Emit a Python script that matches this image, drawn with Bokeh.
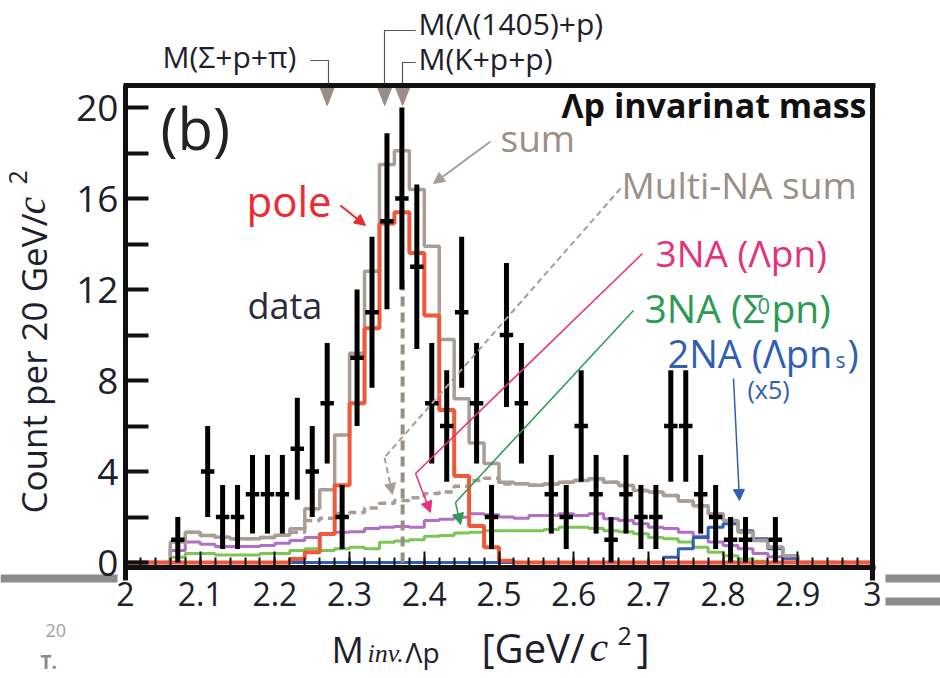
import math
from bokeh.plotting import figure
from bokeh.models import Range1d, FixedTicker, Label, Arrow, NormalHead, LinearAxis
from bokeh.embed import file_html
from bokeh.resources import INLINE

# ---------------- data ----------------
# histogram bins: 20 MeV/c^2, lower edges 2.00 ... 2.98
bin_lo = [2.00, 2.02, 2.04, 2.06, 2.08, 2.10, 2.12, 2.14, 2.16, 2.18,
          2.20, 2.22, 2.24, 2.26, 2.28, 2.30, 2.32, 2.34, 2.36, 2.38,
          2.40, 2.42, 2.44, 2.46, 2.48, 2.50, 2.52, 2.54, 2.56, 2.58,
          2.60, 2.62, 2.64, 2.66, 2.68, 2.70, 2.72, 2.74, 2.76, 2.78,
          2.80, 2.82, 2.84, 2.86, 2.88, 2.90, 2.92, 2.94, 2.96, 2.98]
bin_hi_last = 3.00

sum_hist = [0, 0, 0, 0.90, 1.33, 1.19, 1.11, 1.04, 1.04, 1.10,
            1.20, 1.48, 2.36, 3.20, 5.60, 9.20, 12.8, 17.5, 18.1, 16.4,
            13.9, 9.80, 7.20, 5.25, 4.35, 3.53, 3.46, 3.40, 3.45, 3.53,
            3.60, 3.68, 3.53, 3.38, 3.16, 3.10, 2.95, 2.70, 2.50, 2.14,
            1.85, 1.33, 0.97, 0.67, 0.30, 0, 0, 0, 0, 0]
multi_hist = [0, 0, 0, 0.90, 1.33, 1.19, 1.11, 1.04, 1.04, 1.10,
              1.20, 1.33, 1.85, 1.95, 2.15, 2.20, 2.40, 2.60, 2.72, 2.85,
              3.03, 3.10, 3.35, 3.60, 3.70, 3.45, 3.46, 3.40, 3.45, 3.53,
              3.60, 3.68, 3.53, 3.38, 3.16, 3.10, 2.95, 2.70, 2.50, 2.14,
              1.85, 1.33, 0.97, 0.67, 0.30, 0, 0, 0, 0, 0]
pole_hist = [0, 0, 0, 0, 0, 0, 0, 0, 0, 0,
             0, 0.15, 0.45, 1.25, 3.40, 7.00, 10.3, 14.9, 15.4, 13.6,
             10.86, 6.70, 3.80, 1.60, 0.67, 0.08, 0, 0, 0, 0,
             0, 0, 0, 0, 0, 0, 0, 0, 0, 0,
             0, 0, 0, 0, 0, 0, 0, 0, 0, 0]
lam_pn_hist = [0, 0, 0, 0.53, 0.90, 0.80, 0.70, 0.70, 0.70, 0.75,
               0.85, 0.97, 1.10, 1.25, 1.33, 1.35, 1.50, 1.55, 1.58, 1.55,
               1.85, 1.90, 1.99, 2.14, 2.10, 2.00, 1.95, 2.07, 2.07, 2.14,
               2.07, 2.14, 1.92, 1.85, 1.70, 1.55, 1.50, 1.33, 1.15, 0.90,
               0.75, 0.60, 0.40, 0.25, 0.15, 0, 0, 0, 0, 0]
sig_pn_hist = [0, 0, 0, 0.23, 0.40, 0.40, 0.33, 0.33, 0.33, 0.40,
               0.40, 0.53, 0.60, 0.53, 0.60, 0.67, 0.60, 0.89, 0.95, 1.00,
               1.15, 1.19, 1.30, 1.33, 1.40, 1.40, 1.40, 1.40, 1.45, 1.55,
               1.55, 1.50, 1.40, 1.35, 1.26, 1.10, 1.04, 0.90, 0.67, 0.45,
               0.30, 0.15, 0.05, 0, 0, 0, 0, 0, 0, 0]
twoNA_x5_hist = [0, 0, 0, 0, 0, 0, 0, 0, 0, 0,
                 0, 0, 0, 0, 0, 0, 0, 0, 0, 0,
                 0, 0, 0, 0, 0, 0, 0, 0, 0, 0,
                 0, 0, 0, 0, 0, 0, 0.23, 0.60, 1.10, 1.55,
                 1.70, 1.40, 1.04, 0.60, 0.20, 0, 0, 0, 0, 0]

data_x = [2.07, 2.11, 2.13, 2.15, 2.17, 2.19, 2.21, 2.23, 2.25, 2.27,
          2.29, 2.31, 2.33, 2.35, 2.37, 2.39, 2.41, 2.43, 2.45, 2.47,
          2.49, 2.51, 2.53, 2.57, 2.59, 2.61, 2.63, 2.65, 2.67, 2.69,
          2.71, 2.73, 2.75, 2.77, 2.79, 2.81, 2.83, 2.87]
data_y = [1, 4, 2, 2, 3, 3, 3, 5, 4, 7,
          2, 9, 11, 15, 16, 13, 7, 6, 11, 7,
          2, 10, 7, 3, 2, 6, 3, 1, 3, 2,
          2, 6, 6, 3, 2, 1, 1, 1]
data_err = [1.0, 2.0, 1.41, 1.41, 1.73, 1.73, 1.73, 2.24, 2.0, 2.65,
            1.41, 3.0, 3.32, 3.87, 4.0, 3.61, 2.65, 2.45, 3.32, 2.65,
            1.41, 3.16, 2.65, 1.73, 1.41, 2.45, 1.73, 1.0, 1.73, 1.41,
            1.41, 2.45, 2.45, 1.73, 1.41, 1.0, 1.0, 1.0]

thresh_x = [2.270, 2.347, 2.371]          # M(Σ+p+π), M(Λ(1405)+p), M(K+p+p)
kpp_threshold = 2.371

x_ticks = [2.0, 2.1, 2.2, 2.3, 2.4, 2.5, 2.6, 2.7, 2.8, 2.9, 3.0]
x_tick_labels = ["2", "2.1", "2.2", "2.3", "2.4", "2.5", "2.6", "2.7", "2.8", "2.9", "3"]
x_minor = [2.00, 2.02, 2.04, 2.06, 2.08, 2.10, 2.12, 2.14, 2.16, 2.18,
           2.20, 2.22, 2.24, 2.26, 2.28, 2.30, 2.32, 2.34, 2.36, 2.38,
           2.40, 2.42, 2.44, 2.46, 2.48, 2.50, 2.52, 2.54, 2.56, 2.58,
           2.60, 2.62, 2.64, 2.66, 2.68, 2.70, 2.72, 2.74, 2.76, 2.78,
           2.80, 2.82, 2.84, 2.86, 2.88, 2.90, 2.92, 2.94, 2.96, 2.98]
y_ticks = [0, 4, 8, 12, 16, 20]
y_minor = [2, 6, 10, 14, 18]

# ---------------- styling ----------------
FONT = "Open Sans"
SERIF = "Liberation Serif"
C_SUM = "#a89d97"
C_SUMTXT = "#9c8f88"
C_POLE = "#f0583a"
C_POLETXT = "#ec2a2f"
C_PURPLE = "#b36fc4"
C_GREEN = "#7cc655"
C_GREENTXT = "#2a9a55"
C_PINK = "#e6307c"
C_BLUE = "#2f5fb5"
C_TRI = "#9a8d87"
C_TXT = "#1e1e2c"
C_AX = "#111111"

# pixel <-> data mapping of the canvas (x=2 at 125 px, 747 px per GeV; y=0 at 562 px, 22.75 px per count)
def X(px):
    return 2.0 + (px - 125.0) / 747.0

def Y(py):
    return (562.0 - py) / 22.75

p = figure(width=940, height=678,
           x_range=Range1d(X(0), X(940)), y_range=Range1d(Y(678), Y(0)),
           x_axis_type=None, y_axis_type=None,
           min_border=0, min_border_left=0, min_border_right=0,
           min_border_top=0, min_border_bottom=0,
           output_backend="svg", toolbar_location=None,
           background_fill_color="white", border_fill_color="white")
p.xgrid.visible = False
p.ygrid.visible = False
p.outline_line_color = None

# ---------------- axes (fixed at the frame edges) ----------------
left_ax = LinearAxis(fixed_location=2.0, bounds=(Y(580), Y(85)),
                     ticker=FixedTicker(ticks=y_ticks, minor_ticks=y_minor))
left_ax.major_tick_in = 23
left_ax.major_tick_out = 0
left_ax.minor_tick_in = 23
left_ax.minor_tick_out = 0
left_ax.major_tick_line_width = 4
left_ax.minor_tick_line_width = 4
left_ax.major_tick_line_color = C_AX
left_ax.minor_tick_line_color = C_AX
left_ax.axis_line_width = 5
left_ax.axis_line_color = C_AX
left_ax.major_label_text_font = FONT
left_ax.major_label_text_font_size = "37px"
left_ax.major_label_text_color = C_TXT
left_ax.major_label_standoff = 7
p.add_layout(left_ax, "left")

bottom_ax = LinearAxis(fixed_location=Y(567), bounds=(X(122.5), X(874.5)),
                       ticker=FixedTicker(ticks=x_ticks, minor_ticks=x_minor))
bottom_ax.major_label_overrides = dict(zip(x_ticks, x_tick_labels))
bottom_ax.major_tick_in = 16
bottom_ax.major_tick_out = 0
bottom_ax.minor_tick_in = 10
bottom_ax.minor_tick_out = 0
bottom_ax.major_tick_line_width = 2
bottom_ax.minor_tick_line_width = 2
bottom_ax.major_tick_line_color = C_AX
bottom_ax.minor_tick_line_color = C_AX
bottom_ax.axis_line_width = 5
bottom_ax.axis_line_color = C_AX
bottom_ax.major_label_text_font = FONT
bottom_ax.major_label_text_font_size = "32px"
bottom_ax.major_label_text_color = C_TXT
bottom_ax.major_label_standoff = 14
p.add_layout(bottom_ax, "below")

right_ax = LinearAxis(fixed_location=3.0, bounds=(Y(580), Y(85)),
                      ticker=FixedTicker(ticks=[]))
right_ax.axis_line_width = 5
right_ax.axis_line_color = C_AX
right_ax.major_tick_line_color = None
right_ax.minor_tick_line_color = None
right_ax.major_label_text_font_size = "0px"
p.add_layout(right_ax, "right")

top_ax = LinearAxis(fixed_location=Y(85), bounds=(X(122.5), X(874.5)),
                    ticker=FixedTicker(ticks=[]))
top_ax.axis_line_width = 5
top_ax.axis_line_color = C_AX
top_ax.major_tick_line_color = None
top_ax.minor_tick_line_color = None
top_ax.major_label_text_font_size = "0px"
p.add_layout(top_ax, "above")

# ---------------- slide remnants around the chart ----------------
p.segment(x0=[X(0), X(885), X(885)], y0=[Y(578), Y(578), Y(601)],
          x1=[X(117), X(940), X(940)], y1=[Y(578), Y(578), Y(601)],
          line_color="#8c8c8c", line_width=8)

# ---------------- histograms ----------------
edges = bin_lo + [bin_hi_last]

def step_hist(vals, color, width, dash="solid"):
    p.step(x=edges, y=vals + [vals[-1]], mode="after", line_color=color,
           line_width=width, line_dash=dash)

step_hist(sig_pn_hist, C_GREEN, 3)
step_hist(lam_pn_hist, C_PURPLE, 3)
step_hist(twoNA_x5_hist, C_BLUE, 3)
step_hist(multi_hist, C_SUM, 3.5, "8 5")
step_hist(sum_hist, C_SUM, 3.5)
step_hist(pole_hist, C_POLE, 4)

# K+p+p threshold dashed line
p.segment(x0=[kpp_threshold], y0=[0], x1=[kpp_threshold], y1=[12.5],
          line_color=C_TRI, line_width=4, line_dash="10 6")

# ---------------- data points ----------------
lo = [y - e for y, e in zip(data_y, data_err)]
hi = [y + e for y, e in zip(data_y, data_err)]
p.segment(x0=data_x, y0=lo, x1=data_x, y1=hi, line_color="black", line_width=5)
p.segment(x0=[x - 0.009 for x in data_x], y0=data_y,
          x1=[x + 0.009 for x in data_x], y1=data_y,
          line_color="black", line_width=4.5)

# threshold markers (narrow downward triangles hanging from the top frame)
hw = 7.5 / 747.0
p.patches(xs=[[t - hw, t + hw, t] for t in thresh_x],
          ys=[[Y(86), Y(86), Y(105)] for t in thresh_x],
          fill_color=C_TRI, line_color=C_TRI, line_width=1)

# ---------------- helpers ----------------
BASE_SHIFT = 0.40   # Label's alphabetic anchor sits ~0.4em above the drawn baseline

def lab(text, px, py, size, color, align="left", style="normal", font=FONT, rotated=False):
    if rotated:
        x, y, ang = X(px - BASE_SHIFT * size), Y(py), math.pi / 2
    else:
        x, y, ang = X(px), Y(py - BASE_SHIFT * size), 0.0
    p.add_layout(Label(x=x, y=y, text=text, text_font=font,
                       text_font_size=f"{size}px", text_color=color,
                       text_align=align, text_baseline="alphabetic",
                       text_font_style=style, angle=ang))

def line(pxs, pys, color, width, dash="solid"):
    p.line(x=[X(v) for v in pxs], y=[Y(v) for v in pys], line_color=color,
           line_width=width, line_dash=dash)

def arrow(px0, py0, px1, py1, color, width, dash="solid", size=11):
    p.add_layout(Arrow(x_start=X(px0), y_start=Y(py0), x_end=X(px1), y_end=Y(py1),
                       line_color=color, line_width=width, line_dash=dash,
                       end=NormalHead(size=size, fill_color=color, line_color=color)))

# ---------------- annotations in plot ----------------
lab("(b)", 160, 150, 58, "#222222")
lab("Λp invarinat mass", 866, 118, 34, "#111111", align="right", style="bold")
lab("sum", 500, 152, 37, C_SUMTXT)
lab("Multi-NA sum", 621, 199, 37, C_SUMTXT)
lab("pole", 246, 217, 42, C_POLETXT)
lab("data", 247, 319, 36, "#2a2a3a")
lab("3NA (Λpn)", 655, 267, 37, C_PINK)
lab("3NA (Σ", 644, 323, 39, C_GREENTXT)
lab("0", 757, 314, 22, C_GREENTXT)
lab("pn)", 771, 323, 39, C_GREENTXT)
lab("2NA (Λpn", 667, 368, 38, C_BLUE)
lab("s", 835, 368, 21, C_BLUE)
lab(")", 847, 368, 38, C_BLUE)
lab("(x5)", 747, 398, 25, C_BLUE)

# arrows
arrow(490, 141, 433, 183, C_SUM, 2)
arrow(340, 205, 365, 225, C_POLETXT, 2)
line([620, 384], [188, 457], C_SUM, 2, "6 4")
arrow(384, 457, 392, 494, C_SUM, 2, "6 4")
line([642, 415], [253, 473], C_PINK, 1.5)
arrow(415, 473, 430, 512, C_PINK, 1.5)
line([633, 455], [310, 502], C_GREENTXT, 1.5)
arrow(455, 502, 460, 524, C_GREENTXT, 1.5)
arrow(733, 378, 739, 500, C_BLUE, 1.5)

# ---------------- threshold labels above frame ----------------
lab("M(Σ+p+π)", 162, 68, 30, C_TXT)
lab("M(Λ(1405)+p)", 418, 35, 30, C_TXT)
lab("M(K+p+p)", 418, 70, 30, C_TXT)
line([310, 328, 328], [60, 60, 84], "#555555", 1.2)
line([415, 384, 384], [30, 30, 84], "#555555", 1.2)
line([415, 402, 402], [62, 62, 84], "#555555", 1.2)

# ---------------- axis titles ----------------
lab("Count per 20 GeV/", 47, 513, 35, C_TXT, rotated=True)
lab("c", 47, 214, 40, C_TXT, style="italic", font=SERIF, rotated=True)
lab("2", 27, 184, 25, C_TXT, rotated=True)

XL = 663   # baseline of the x-axis title
lab("M", 331, XL, 36, C_TXT)
lab("inv.", 367, XL, 26, C_TXT, style="italic", font=SERIF)
lab("Λp", 405, XL, 28, C_TXT)
lab("[GeV/", 481, XL, 40, C_TXT)
lab("c", 589, XL, 42, C_TXT, style="italic", font=SERIF)
lab("2", 617, XL - 18, 25, C_TXT)
lab("]", 636, XL, 40, C_TXT)

lab("20", 45, 637, 18, "#a0a0a0")
lab("T.", 40, 669, 19, "#8a8a8a", style="bold")

open("out.html", "w").write(file_html(p, INLINE))
